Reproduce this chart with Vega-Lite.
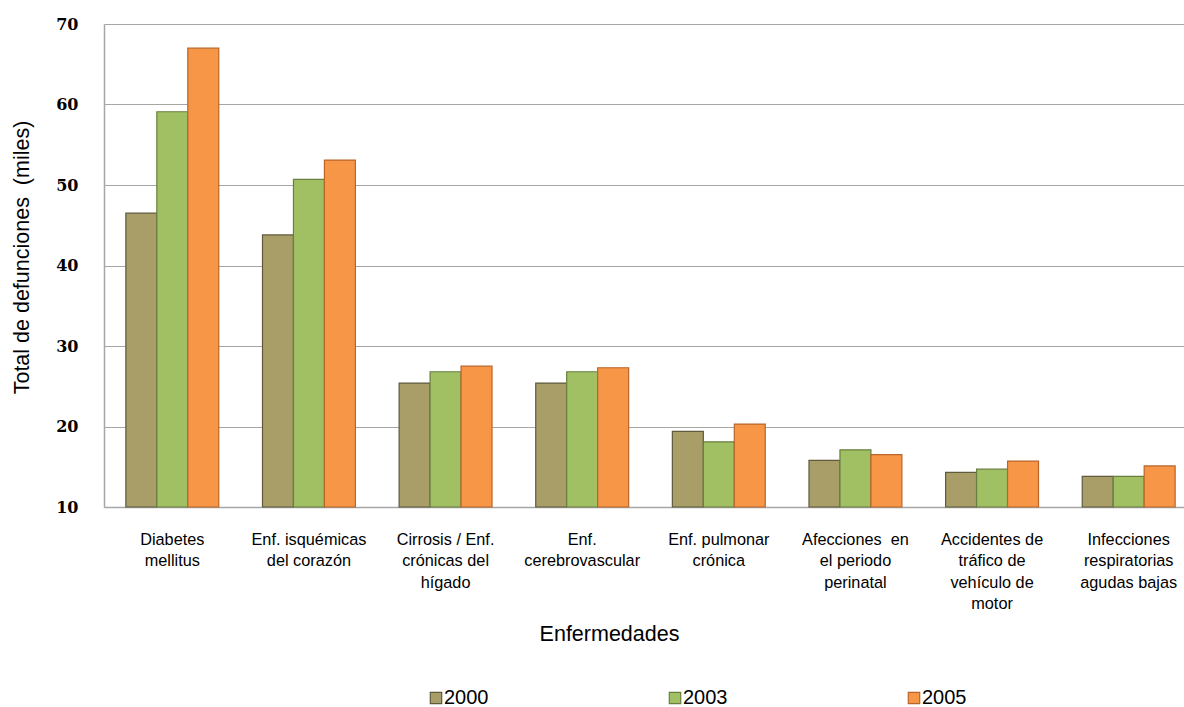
{
  "$schema": "https://vega.github.io/schema/vega-lite/v6.json",
  "autosize": {"type": "none"},
  "width": 1080,
  "height": 483,
  "padding": {"left": 104, "top": 24, "right": 0, "bottom": 200},
  "background": "white",
  "data": {
    "values": [
      {"enfermedad": "Diabetes|mellitus", "anio": "2000", "defunciones": 46.5},
      {"enfermedad": "Diabetes|mellitus", "anio": "2003", "defunciones": 59.1},
      {"enfermedad": "Diabetes|mellitus", "anio": "2005", "defunciones": 67.0},
      {"enfermedad": "Enf. isquémicas|del corazón", "anio": "2000", "defunciones": 43.8},
      {"enfermedad": "Enf. isquémicas|del corazón", "anio": "2003", "defunciones": 50.7},
      {"enfermedad": "Enf. isquémicas|del corazón", "anio": "2005", "defunciones": 53.1},
      {"enfermedad": "Cirrosis / Enf.|crónicas del|hígado", "anio": "2000", "defunciones": 25.4},
      {"enfermedad": "Cirrosis / Enf.|crónicas del|hígado", "anio": "2003", "defunciones": 26.8},
      {"enfermedad": "Cirrosis / Enf.|crónicas del|hígado", "anio": "2005", "defunciones": 27.5},
      {"enfermedad": "Enf.|cerebrovascular", "anio": "2000", "defunciones": 25.4},
      {"enfermedad": "Enf.|cerebrovascular", "anio": "2003", "defunciones": 26.8},
      {"enfermedad": "Enf.|cerebrovascular", "anio": "2005", "defunciones": 27.3},
      {"enfermedad": "Enf. pulmonar|crónica", "anio": "2000", "defunciones": 19.4},
      {"enfermedad": "Enf. pulmonar|crónica", "anio": "2003", "defunciones": 18.1},
      {"enfermedad": "Enf. pulmonar|crónica", "anio": "2005", "defunciones": 20.3},
      {"enfermedad": "Afecciones\u00a0 en|el periodo|perinatal", "anio": "2000", "defunciones": 15.8},
      {"enfermedad": "Afecciones\u00a0 en|el periodo|perinatal", "anio": "2003", "defunciones": 17.1},
      {"enfermedad": "Afecciones\u00a0 en|el periodo|perinatal", "anio": "2005", "defunciones": 16.5},
      {"enfermedad": "Accidentes de|tráfico de|vehículo de|motor", "anio": "2000", "defunciones": 14.3},
      {"enfermedad": "Accidentes de|tráfico de|vehículo de|motor", "anio": "2003", "defunciones": 14.7},
      {"enfermedad": "Accidentes de|tráfico de|vehículo de|motor", "anio": "2005", "defunciones": 15.7},
      {"enfermedad": "Infecciones|respiratorias|agudas bajas", "anio": "2000", "defunciones": 13.8},
      {"enfermedad": "Infecciones|respiratorias|agudas bajas", "anio": "2003", "defunciones": 13.8},
      {"enfermedad": "Infecciones|respiratorias|agudas bajas", "anio": "2005", "defunciones": 15.1}
    ]
  },
  "mark": {"type": "bar", "strokeWidth": 1.2},
  "encoding": {
    "x": {
      "field": "enfermedad",
      "type": "nominal",
      "sort": null,
      "scale": {"range": [0, 1093], "paddingInner": 0.32, "paddingOuter": 0.16},
      "axis": {
        "title": "Enfermedades",
        "titleFont": "Liberation Sans",
        "titleFontSize": 21.5,
        "titleFontWeight": "normal",
        "titleColor": "#000000",
        "titlePadding": 12,
        "titleX": 505,
        "labelExpr": "split(datum.label, '|')",
        "labelAngle": 0,
        "labelFont": "Liberation Sans",
        "labelFontSize": 16.3,
        "labelColor": "#000000",
        "labelLineHeight": 21.5,
        "labelPadding": 24,
        "labelLimit": 200,
        "ticks": false,
        "domainColor": "#A6A6A6",
        "domainWidth": 1.5,
        "grid": false
      }
    },
    "xOffset": {"field": "anio", "type": "nominal", "scale": {"paddingInner": 0, "paddingOuter": 0}},
    "y": {
      "field": "defunciones",
      "type": "quantitative",
      "scale": {"domain": [10, 70], "zero": false, "nice": false},
      "axis": {
        "title": "Total de defunciones\u00a0 (miles)",
        "titleFont": "Liberation Sans",
        "titleFontSize": 21.5,
        "titleFontWeight": "normal",
        "titleColor": "#000000",
        "titlePadding": 22,
        "titleY": 233,
        "values": [10, 20, 30, 40, 50, 60, 70],
        "labelFont": "DejaVu Serif",
        "labelFontSize": 16,
        "labelFontWeight": "bold",
        "labelColor": "#000000",
        "labelPadding": 26,
        "ticks": false,
        "domainColor": "#A6A6A6",
        "domainWidth": 1.5,
        "grid": true,
        "gridColor": "#A6A6A6",
        "gridWidth": 1.2
      }
    },
    "y2": {"datum": 10},
    "fill": {
      "field": "anio",
      "type": "nominal",
      "scale": {"domain": ["2000", "2003", "2005"], "range": ["#A99D68", "#A1C064", "#F79646"]},
      "legend": {
        "title": null,
        "orient": "none",
        "legendX": 322,
        "legendY": 664,
        "direction": "horizontal",
        "columns": 3,
        "columnPadding": 176,
        "symbolType": "square",
        "symbolSize": 130,
        "symbolStrokeWidth": 1.2,
        "symbolOffset": 0,
        "labelOffset": -2,
        "labelFont": "Liberation Sans",
        "labelFontSize": 20,
        "labelColor": "#000000"
      }
    },
    "stroke": {
      "field": "anio",
      "type": "nominal",
      "scale": {"domain": ["2000", "2003", "2005"], "range": ["#5F5A3C", "#6A7F3F", "#B9652A"]},
      "legend": {
        "title": null,
        "orient": "none",
        "legendX": 322,
        "legendY": 664,
        "direction": "horizontal",
        "columns": 3,
        "columnPadding": 176,
        "symbolType": "square",
        "symbolSize": 130,
        "symbolStrokeWidth": 1.2,
        "symbolOffset": 0,
        "labelOffset": -2,
        "labelFont": "Liberation Sans",
        "labelFontSize": 20,
        "labelColor": "#000000"
      }
    }
  },
  "config": {"view": {"stroke": null}}
}
